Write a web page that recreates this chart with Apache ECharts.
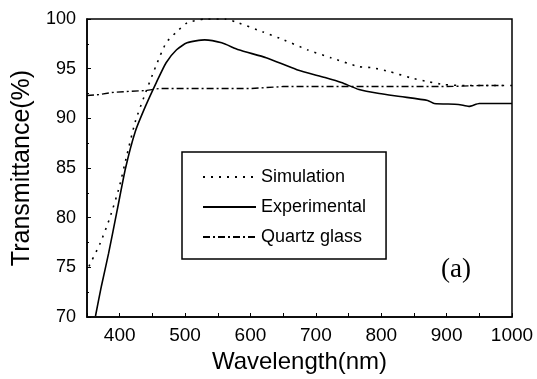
<!DOCTYPE html>
<html><head><meta charset="utf-8">
<script src="https://cdn.jsdelivr.net/npm/echarts@6/dist/echarts.min.js"></script>
<style>html,body{margin:0;padding:0;background:#fff}#c{width:537px;height:379px}</style>
</head><body><div id="c"></div>
<script>
var simX = [353, 370, 385, 399, 411, 424, 438, 455, 471, 487, 503, 530, 561, 582, 619, 651, 687, 723, 766, 786, 813, 844, 871, 896, 930, 960, 1000];
var simY = [75.1, 77.4, 80.0, 83.0, 86.3, 89.7, 92.3, 95.2, 97.6, 98.7, 99.6, 100, 100, 99.6, 98.7, 97.9, 96.9, 96.1, 95.2, 95.1, 94.7, 94.1, 93.7, 93.4, 93.3, 93.3, 93.3];
var expX = [363, 372, 383, 396, 409, 424, 440, 456, 471, 487, 503, 530, 556, 582, 624, 671, 714, 739, 766, 797, 829, 871, 881, 918, 934, 950, 1000];
var expY = [70.1, 73.1, 76.4, 80.7, 85.0, 88.7, 91.3, 93.6, 95.6, 96.9, 97.6, 97.9, 97.6, 96.9, 96.1, 94.9, 94.1, 93.6, 92.9, 92.5, 92.2, 91.8, 91.5, 91.4, 91.2, 91.5, 91.5];
var qzX = [350, 370, 388, 410, 440, 460, 500, 550, 600, 650, 700, 750, 800, 850, 900, 950, 986];
var qzY = [92.3, 92.4, 92.6, 92.7, 92.8, 93.0, 93.0, 93.0, 93.0, 93.2, 93.2, 93.2, 93.2, 93.2, 93.2, 93.3, 93.3];
var xTicks = [400, 500, 600, 700, 800, 900, 1000];
var yTicks = [70, 75, 80, 85, 90, 95, 100];
var names = ['Simulation', 'Experimental', 'Quartz glass'];

function zip(a, b) { return a.map(function (v, i) { return [v, b[i]]; }); }

var FF = 'Liberation Sans, Arial, sans-serif';
var chart = echarts.init(document.getElementById('c'));
chart.setOption({
  animation: false,
  grid: { left: 87, right: 25, top: 19, bottom: 59, show: true, borderColor: '#000', borderWidth: 1.5 },
  xAxis: {
    type: 'value', min: 350, max: 1000, interval: 50,
    name: 'Wavelength(nm)', nameLocation: 'middle', nameGap: 33,
    nameTextStyle: { color: '#000', fontFamily: FF, fontSize: 24 },
    axisLine: { lineStyle: { color: '#000', width: 1.5 } },
    axisTick: { inside: true, length: 4, lineStyle: { color: '#000' },
      interval: function (i, v) { return xTicks.indexOf(+v) >= 0; } },
    axisLabel: { color: '#000', fontFamily: FF, fontSize: 19, margin: 9,
      formatter: function (v) { return xTicks.indexOf(v) >= 0 ? String(v) : ''; } },
    splitLine: { show: false }
  },
  yAxis: {
    type: 'value', min: 70, max: 100, interval: 5,
    name: 'Transmittance(%)', nameLocation: 'middle', nameGap: 50,
    nameTextStyle: { color: '#000', fontFamily: FF, fontSize: 25 },
    axisLine: { lineStyle: { color: '#000', width: 1.5 } },
    axisTick: { inside: true, length: 4, lineStyle: { color: '#000' } },
    minorTick: { show: true, splitNumber: 2, length: 2, lineStyle: { color: '#000' } },
    axisLabel: { color: '#000', fontFamily: FF, fontSize: 18, margin: 11,
      formatter: function (v) { return yTicks.indexOf(v) >= 0 ? String(v) : ''; } },
    splitLine: { show: false }
  },
  legend: {
    orient: 'vertical', left: 182, top: 152, itemWidth: 53, itemHeight: 10, itemGap: 12,
    padding: [16, 20, 13, 20], borderColor: '#000', borderWidth: 1.5, backgroundColor: '#fff',
    itemStyle: { opacity: 0 },
    textStyle: { color: '#000', fontFamily: FF, fontSize: 18 },
    data: names
  },
  graphic: [{ type: 'text', left: 441, top: 256,
    style: { text: '(a)', font: '27px "Liberation Serif", "Times New Roman", serif', fill: '#000' } }],
  series: [
    { name: names[0], type: 'line', showSymbol: false, symbol: 'none', data: zip(simX, simY), smooth: 0.2,
      lineStyle: { color: '#000', width: 1.6, type: [2, 6] }, itemStyle: { color: '#000' } },
    { name: names[1], type: 'line', showSymbol: false, symbol: 'none', data: zip(expX, expY), smooth: 0.2,
      lineStyle: { color: '#000', width: 1.6, type: 'solid' }, itemStyle: { color: '#000' } },
    { name: names[2], type: 'line', showSymbol: false, symbol: 'none', data: zip(qzX, qzY),
      lineStyle: { color: '#000', width: 1.4, type: [7, 3, 2, 3] }, itemStyle: { color: '#000' } }
  ]
});
</script></body></html>
